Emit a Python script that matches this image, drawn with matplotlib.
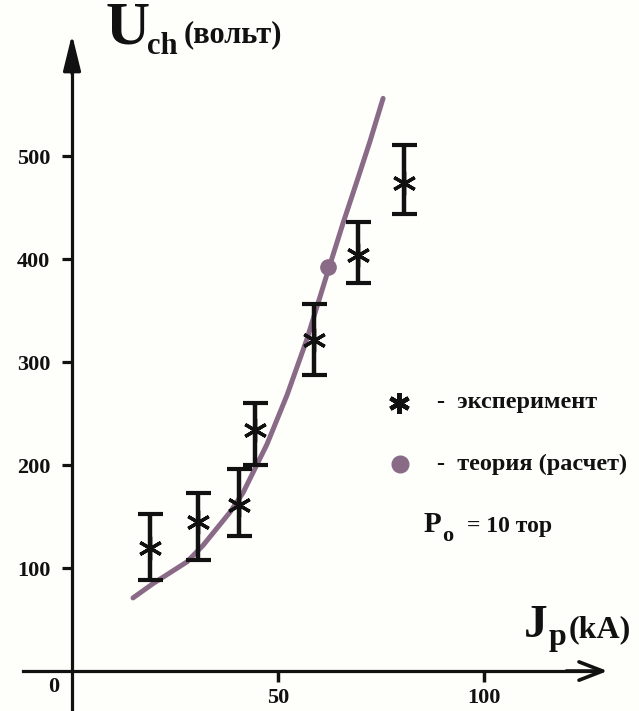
import matplotlib
matplotlib.use("Agg")
import matplotlib.pyplot as plt

# ---- data ----
exp_x = [18.9, 30.6, 40.5, 44.4, 58.7, 69.4, 80.6]
exp_y = [119, 145, 161, 234, 321, 404, 474]
err_minus = [31, 37, 30, 34, 34, 27, 30]
err_plus = [33, 28, 35, 26, 35, 32, 37]

curve_x = [14.8, 19.7, 27.9, 31.8, 38.3, 41.5, 47.3, 52.2, 57.0, 62.1, 65.8, 69.2, 72.3, 75.5]
curve_y = [71, 85, 106, 122, 154, 173, 220, 268, 322, 388, 435, 476, 514, 556]

theory_x = [62.1]
theory_y = [392]

y_ticks = [100, 200, 300, 400, 500]
x_ticks = [50, 100]

W, H = 639, 711
BG = '#fefefa'
CURVE = '#8a6b87'
INK = '#111111'
FONT = 'Liberation Serif'

plt.rcParams['font.family'] = [FONT, 'DejaVu Serif']
plt.rcParams['font.weight'] = 'bold'

fig = plt.figure(figsize=(W / 100, H / 100), dpi=100, facecolor=BG)
ax = fig.add_axes([0, 0, 1, 1])
ax.set_facecolor(BG)
ax.set_xlim(-17.48, 137.62)
ax.set_ylim(-38.8, 651.5)

def fx(px):
    return px / W

def fy(py):
    return 1 - py / H

# axes as arrows
for s in ['top', 'right']:
    ax.spines[s].set_visible(False)
ax.spines['left'].set_position(('data', 0))
ax.spines['bottom'].set_position(('data', 0))
ax.spines['left'].set_bounds(-40, 600)
ax.spines['bottom'].set_bounds(-12, 127)
for s in ['left', 'bottom']:
    ax.spines[s].set_linewidth(2.3)
    ax.spines[s].set_color(INK)
ax.annotate('', xy=(0, 618), xytext=(0, 580),
            arrowprops=dict(arrowstyle='-|>,head_length=1.1,head_width=0.27',
                            mutation_scale=20, color=INK, lw=2.3, shrinkA=0, shrinkB=0))
ax.annotate('', xy=(130, 0), xytext=(120, 0),
            arrowprops=dict(arrowstyle='->,head_length=0.85,head_width=0.33',
                            mutation_scale=20, color=INK, lw=2.6, shrinkA=0, shrinkB=0))

ax.set_yticks(y_ticks)
ax.set_yticklabels([str(v) for v in y_ticks])
ax.set_xticks(x_ticks)
ax.set_xticklabels([str(v) for v in x_ticks])
ax.tick_params(axis='y', direction='out', length=7.5, width=2.3, pad=8,
               labelsize=16, colors=INK)
ax.tick_params(axis='x', direction='out', length=8, width=2.5, pad=4,
               labelsize=16, colors=INK)
for lab in ax.get_xticklabels() + ax.get_yticklabels():
    lab.set_fontweight('bold')
    lab.set_fontfamily(FONT)
fig.text(fx(54), fy(687), '0', fontsize=16, fontweight='bold', ha='center', va='center', color=INK)

# curve + theory point
ax.plot(curve_x, curve_y, color=CURVE, lw=3.6, solid_capstyle='round',
        solid_joinstyle='round', zorder=2)
ax.plot(theory_x, theory_y, 'o', color=CURVE, ms=11, zorder=2)

# experiment
ax.errorbar(exp_x, exp_y, yerr=[err_minus, err_plus], fmt='none', ecolor=INK,
            elinewidth=3.2, capsize=9, capthick=3.0, zorder=3)
ax.plot(exp_x, exp_y, linestyle='none', marker=(6, 2, 0), ms=17, mew=2.4,
        color=INK, zorder=4)

# titles
fig.text(fx(105), fy(44), 'U', fontsize=44, fontweight='bold', color=INK, va='baseline')
fig.text(fx(147), fy(54), 'ch', fontsize=22, fontweight='bold', color=INK, va='baseline')
fig.text(fx(184), fy(42), '(вольт)', fontsize=22, fontweight='bold', color=INK, va='baseline')

fig.text(fx(524), fy(637), 'J', fontsize=34, fontweight='bold', color=INK, va='baseline')
fig.text(fx(549), fy(645), 'p', fontsize=23, fontweight='bold', color=INK, va='baseline')
fig.text(fx(569), fy(637), '(kA)', fontsize=23, fontweight='bold', color=INK, va='baseline')

# legend
fig.lines.append(plt.Line2D([fx(399)], [fy(403)], transform=fig.transFigure,
                            linestyle='none', marker=(6, 2, 0), ms=15, mew=3.2, color=INK))
fig.lines.append(plt.Line2D([fx(400)], [fy(464)], transform=fig.transFigure,
                            linestyle='none', marker='o', ms=12, color=CURVE))
fig.text(fx(437), fy(408), '-  эксперимент', fontsize=17.5, fontweight='bold', color=INK, va='baseline')
fig.text(fx(437), fy(470), '-  теория (расчет)', fontsize=17.5, fontweight='bold', color=INK, va='baseline')
fig.text(fx(424), fy(532), 'P', fontsize=21, fontweight='bold', color=INK, va='baseline')
fig.text(fx(442), fy(541), 'o', fontsize=16, fontweight='bold', color=INK, va='baseline')
fig.text(fx(467), fy(532), '= 10 тор', fontsize=17, fontweight='bold', color=INK, va='baseline')

fig.savefig('out.png', dpi=100, facecolor=BG)
